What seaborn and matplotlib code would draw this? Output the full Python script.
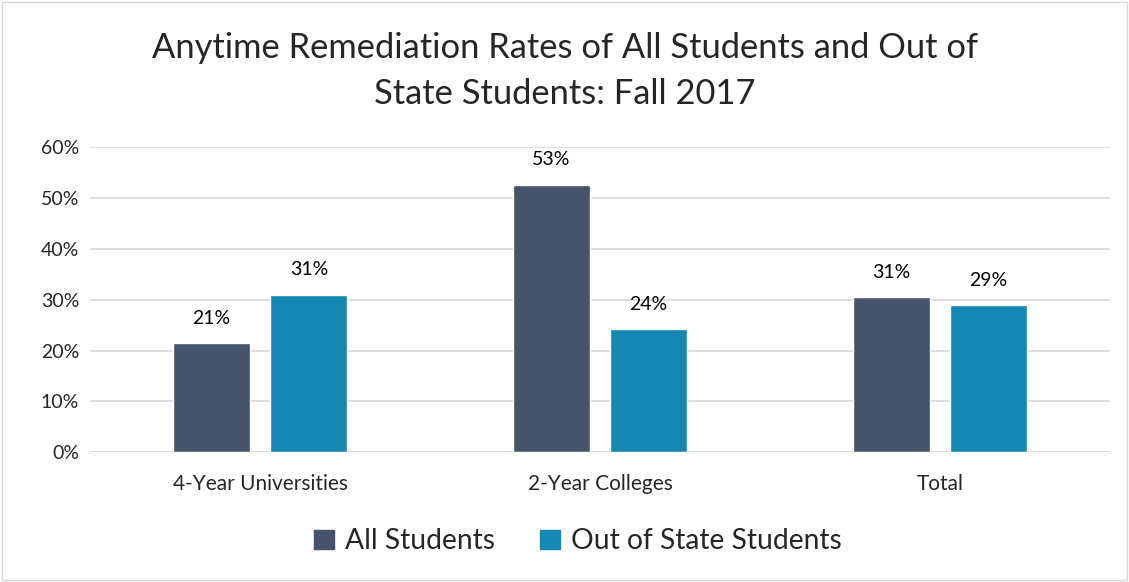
import matplotlib
matplotlib.use("Agg")
import matplotlib.pyplot as plt
import seaborn as sns
import pandas as pd
from matplotlib.patches import Rectangle

categories = ["4-Year Universities", "2-Year Colleges", "Total"]
series = ["All Students", "Out of State Students"]
all_students = [0.214, 0.526, 0.305]
out_of_state = [0.309, 0.242, 0.289]
labels_all = ["21%", "53%", "31%"]
labels_oos = ["31%", "24%", "29%"]
colors = ["#46546A", "#1487B3"]

rows = []
for c, a, o in zip(categories, all_students, out_of_state):
    rows.append({"cat": c, "series": series[0], "val": a})
    rows.append({"cat": c, "series": series[1], "val": o})
df = pd.DataFrame(rows)

sns.set_theme(style="white")
plt.rcParams["font.family"] = ["Lato", "DejaVu Sans"]

fig = plt.figure(figsize=(11.29, 5.82), dpi=100)
ax = fig.add_axes([0.08, 0.223, 0.903, 0.524])
sns.barplot(data=df, x="cat", y="val", hue="series", palette=colors,
            order=categories, hue_order=series, width=0.572, gap=0.21,
            ax=ax, legend=False, saturation=1, errorbar=None)

ax.set_ylim(0, 0.6)
ax.set_yticks([0, 0.1, 0.2, 0.3, 0.4, 0.5, 0.6])
ax.set_yticklabels(["0%", "10%", "20%", "30%", "40%", "50%", "60%"], fontsize=14)
ax.tick_params(axis="x", labelsize=15, length=0, pad=16)
ax.tick_params(axis="y", length=0, pad=8)
ax.set_xlim(-0.5, 2.5)
ax.yaxis.grid(True, color="#D9D9D9", linewidth=1.2)
ax.set_axisbelow(True)
for s in ["top", "right", "left", "bottom"]:
    ax.spines[s].set_visible(False)
ax.axhline(0, color="#D9D9D9", linewidth=1.2, zorder=0.5)
ax.set_xlabel("")
ax.set_ylabel("")

for cont, labs in zip(ax.containers, [labels_all, labels_oos]):
    ax.bar_label(cont, labels=labs, padding=12, fontsize=14, color="#000000")

fig.suptitle("Anytime Remediation Rates of All Students and Out of\nState Students: Fall 2017",
             fontsize=24.8, y=0.945, va="top", linespacing=1.55)

handles = [Rectangle((0, 0), 1, 1, color=c) for c in colors]
fig.legend(handles, series, loc="center", bbox_to_anchor=(0.512, 0.07), ncol=2,
           frameon=False, fontsize=20.3, handlelength=0.7, handleheight=0.7,
           handletextpad=0.4, columnspacing=1.6)

fig.patches.append(Rectangle((0.002, 0.003), 0.996, 0.994, transform=fig.transFigure,
                             fill=False, edgecolor="#D9D9D9", linewidth=1))

fig.savefig("out.png", dpi=100)
